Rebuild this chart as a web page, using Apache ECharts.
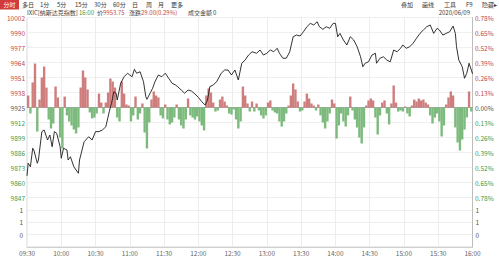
<!DOCTYPE html>
<html>
<head>
<meta charset="utf-8">
<script src="https://cdn.jsdelivr.net/npm/echarts/dist/echarts.min.js"></script>
<style>
html,body{margin:0;padding:0;background:#fff;}
#c{width:499px;height:257px;}
</style>
</head>
<body>
<div id="c"></div>
<script>
// ---------- data ----------
const prevClose = 9924.75;
const timeLabels = ['09:30','10:00','10:30','11:00','11:30','12:00','12:30','13:00','13:30','14:00','14:30','15:00','15:30','16:00'];
const priceLabels = ['9847','9860','9873','9886','9899','9912','9925','9938','9951','9964','9977','9990','10002'];
const pctLabels = ['0.78%','0.65%','0.52%','0.39%','0.26%','0.13%','0.00%','0.13%','0.26%','0.39%','0.52%','0.65%','0.78%'];
const volLabels = ['', '0', '1', '1', ''];

// minutes after 09:30
const lineMinutes = [0,1,3,5,6,9,10,13,15,18,
20,22,24,26,29,30,32,35,36,38,
41,45,46,50,54,57,60,63,66,69,
72,74,76,78,79,82,85,88,90,92,
94,96,99,102,104,105,108,110,112,115,
118,121,124,127,130,132,135,138,141,144,
147,150,153,156,158,160,163,166,170,173,
176,179,182,185,188,191,194,197,201,204,
207,210,213,216,219,221,224,227,230,233,
236,239,242,245,248,251,254,256,259,262,
265,268,270,272,274,277,280,283,286,289,
292,294,296,299,302,305,306,309,312,315,
318,321,324,327,329,332,335,338,341,344,
347,350,353,356,359,361,364,367,370,373,
375,376,378,381,383,385,387,389,390];
const linePrices = [9866.0,9876.8,9873.8,9889.7,9888.2,9876.8,9879.6,9904.0,9905.4,9896.8,
9901.1,9891.0,9904.0,9902.6,9891.0,9881.1,9889.7,9888.2,9879.6,9882.4,
9873.8,9868.2,9879.6,9895.3,9899.6,9896.8,9904.0,9904.0,9905.4,9908.2,
9921.1,9928.4,9938.3,9937.0,9931.2,9945.6,9951.2,9954.2,9952.7,9951.2,
9957.6,9954.2,9955.5,9946.9,9934.0,9931.8,9937.5,9941.3,9946.9,9952.7,
9951.2,9954.2,9949.9,9945.6,9944.1,9942.6,9939.8,9937.0,9939.8,9938.9,
9936.4,9933.5,9929.7,9926.9,9931.2,9942.6,9944.1,9946.9,9954.2,9957.0,
9957.0,9952.7,9957.0,9948.4,9962.8,9965.6,9969.9,9972.7,9971.4,9974.2,
9969.9,9971.4,9974.2,9972.7,9975.7,9971.4,9967.1,9967.1,9972.7,9985.6,
9987.1,9986.2,9989.9,9994.2,9997.1,9995.7,9998.5,9994.2,9992.0,9994.2,
9992.9,9997.1,9997.1,9985.6,9988.5,9982.8,9978.5,9985.6,9982.8,9977.0,
9968.4,9959.8,9962.8,9964.1,9969.9,9971.4,9962.8,9967.1,9968.4,9965.6,
9964.0,9974.2,9972.7,9975.7,9978.5,9975.7,9977.0,9980.0,9984.3,9988.5,
9991.4,9994.2,9995.7,9988.5,9992.9,9991.4,9987.1,9988.5,9989.9,9994.8,
9988.5,9977.0,9965.6,9959.8,9949.9,9954.2,9962.8,9957.0,9953.75];

// red/green bars, percent, one per 2-minute slot
const barValues = [0.104,-0.052,0.217,0.381,-0.208,0.069,0.26,0.355,0.173,-0.104,
-0.182,-0.139,0.182,0.087,-0.26,-0.355,0.095,-0.069,-0.121,-0.156,
-0.191,-0.225,-0.173,0.173,0.321,0.26,0.156,-0.043,-0.095,-0.087,
-0.052,0.121,0.043,-0.052,0.043,0.13,0.251,0.225,0.173,-0.087,
-0.121,0.225,0.121,0.026,0.017,-0.121,-0.069,0.095,-0.104,-0.052,
0.035,-0.217,-0.355,-0.13,0.069,0.139,0.104,0.087,-0.069,-0.095,
0.026,-0.104,-0.147,-0.13,-0.087,0.026,-0.104,-0.156,-0.182,-0.104,
0.078,-0.069,-0.087,-0.104,-0.078,-0.121,-0.156,-0.199,0.104,0.165,
0.13,0.043,-0.035,-0.026,0.069,0.095,0.052,0.017,-0.052,-0.061,
-0.017,-0.104,-0.182,-0.121,0.182,0.104,0.035,-0.035,0.052,-0.035,
0.035,-0.026,-0.069,-0.095,-0.069,0.043,0.061,-0.026,-0.043,-0.052,
-0.121,-0.165,-0.121,-0.052,0.017,0.104,0.208,0.156,0.052,-0.035,
-0.026,0.052,0.121,0.078,0.035,0.017,-0.026,0.026,-0.069,-0.13,
-0.182,-0.121,-0.052,0.069,0.035,-0.269,-0.156,-0.052,-0.121,-0.165,
-0.069,0.095,-0.026,-0.104,-0.173,-0.26,-0.312,-0.173,0.017,0.061,
0.078,0.061,-0.087,-0.234,-0.069,0.043,0.061,-0.052,-0.147,0.035,
0.191,0.043,-0.035,-0.026,-0.035,0.009,-0.052,-0.078,0.017,0.069,
0.052,0.078,0.061,0.069,0.043,0.026,-0.069,-0.139,-0.087,-0.052,
-0.121,-0.251,-0.156,0.026,0.087,0.139,0.104,-0.173,-0.303,-0.373,
-0.277,-0.191,-0.087,0.139,-0.035];

const headerTabs = ['多日','1分','5分','15分','30分','60分','日','周','月','更多'];
const headerTools = ['叠加','画线','工具','F9','隐藏▸'];

// ---------- chart ----------
const RED = '#c24848', GREEN = '#3f9a3f', GRAY = '#555';
const BAR_RED = '#cf7e7e', BAR_GREEN = '#7dba7d';
const FONT = '"Noto Sans CJK SC", "Noto Sans", sans-serif';
const HS = 6;

const chart = echarts.init(document.getElementById('c'), null, {renderer: 'svg'});

const lineData = lineMinutes.map((m, i) => [m, linePrices[i]]);
const barData = barValues.map((v, i) => [i * 2 + 1, v]);

function txt(x, y, text, fill, size, align) {
  return {type: 'text', x: x, y: y, silent: true,
    style: {text: text, fill: fill, font: size + 'px ' + FONT, lineHeight: size,
      align: align || 'left', verticalAlign: 'middle',
      textAlign: align || 'left', textVerticalAlign: 'middle'}};
}
const tabX = [22, 40, 57, 75, 94, 113, 132, 146, 158, 171];
const toolX = [401, 422, 444, 466, 482];
const graphics = [
  {type: 'rect', shape: {x: 0, y: 0, width: 19, height: 9.5}, style: {fill: '#d23b3b'}, silent: true},
  txt(3.5, 4.6, '分时', '#fff', HS)
];
headerTabs.forEach((t, i) => graphics.push(txt(tabX[i], 4.6, t, '#333', HS)));
headerTools.forEach((t, i) => graphics.push(txt(toolX[i], 4.6, t, '#333', HS)));
const R2 = 12.8;
graphics.push(txt(27, R2, 'IXIC[纳斯达克指数]', '#444', HS));
graphics.push(txt(79, R2, '16:00', GREEN, HS));
graphics.push(txt(97, R2, '价', '#444', HS));
graphics.push(txt(103, R2, '9953.75', RED, HS));
graphics.push(txt(129, R2, '涨跌', '#444', HS));
graphics.push(txt(141, R2, '29.00(0.29%)', RED, HS));
graphics.push(txt(188, R2, '成交金额', '#444', HS));
graphics.push(txt(213, R2, '0', '#444', HS));
graphics.push(txt(470, R2, '2020/06/09', '#444', HS, 'right'));

const pctColor = (v, i) => (i > 6 ? RED : (i < 6 ? GREEN : GRAY));

const option = {
  animation: false,
  backgroundColor: '#fff',
  textStyle: {fontFamily: FONT},
  graphic: graphics,
  grid: [
    {left: 27, top: 17.5, width: 445.5, height: 180, show: true, borderColor: '#d8d8d8', borderWidth: 1},
    {left: 27, top: 197.5, width: 445.5, height: 49.5, show: true, borderColor: '#d8d8d8', borderWidth: 1}
  ],
  xAxis: [
    {type: 'value', gridIndex: 0, min: 0, max: 390, interval: 30,
      axisLabel: {show: false}, axisTick: {show: false},
      axisLine: {show: true, lineStyle: {color: '#a8a8a8', width: 1}},
      splitLine: {show: true, lineStyle: {color: '#ececec', width: 1}}},
    {type: 'value', gridIndex: 1, min: 0, max: 390, interval: 30,
      axisTick: {show: false},
      axisLine: {show: true, lineStyle: {color: '#cfcfcf', width: 1}},
      splitLine: {show: true, lineStyle: {color: '#ececec', width: 1}},
      axisLabel: {show: true, color: '#666', fontSize: 6.5, margin: 3, fontFamily: FONT,
        showMinLabel: true, showMaxLabel: true,
        formatter: (v, i) => timeLabels[i]}}
  ],
  yAxis: [
    {type: 'value', gridIndex: 0, position: 'left', min: -0.78, max: 0.78, interval: 0.13,
      axisLine: {show: false}, axisTick: {show: false},
      splitLine: {show: true, lineStyle: {color: '#f0f0f0', width: 1}},
      axisLabel: {show: true, fontSize: 6.5, margin: 2, fontFamily: FONT,
        showMinLabel: true, showMaxLabel: true,
        color: pctColor, formatter: (v, i) => priceLabels[i]}},
    {type: 'value', gridIndex: 0, position: 'right', min: -0.78, max: 0.78, interval: 0.13,
      axisLine: {show: true, lineStyle: {color: '#bdbdbd', width: 1}}, axisTick: {show: false},
      splitLine: {show: false},
      axisLabel: {show: true, fontSize: 6.5, margin: 2.5, fontFamily: FONT,
        showMinLabel: true, showMaxLabel: true,
        color: pctColor, formatter: (v, i) => pctLabels[i]}},
    {type: 'value', gridIndex: 0, show: false, min: prevClose * (1 - 0.0078), max: prevClose * (1 + 0.0078),
      splitLine: {show: false}},
    {type: 'value', gridIndex: 1, position: 'left', min: 0, max: 4, interval: 1,
      axisLine: {show: false}, axisTick: {show: false},
      splitLine: {show: true, lineStyle: {color: '#eeeeee', width: 1}},
      axisLabel: {show: true, fontSize: 6.5, margin: 4, color: GRAY, fontFamily: FONT,
        showMinLabel: true, showMaxLabel: true,
        formatter: (v, i) => volLabels[i]}},
    {type: 'value', gridIndex: 1, position: 'right', min: 0, max: 4, interval: 1,
      axisLine: {show: true, lineStyle: {color: '#bdbdbd', width: 1}}, axisTick: {show: false},
      splitLine: {show: false},
      axisLabel: {show: true, fontSize: 6.5, margin: 3, color: GRAY, fontFamily: FONT,
        showMinLabel: true, showMaxLabel: true,
        formatter: (v, i) => volLabels[i]}}
  ],
  series: [
    {type: 'bar', name: 'flow', xAxisIndex: 0, yAxisIndex: 1, data: barData,
      barWidth: 2.4, barGap: '0%', z: 2,
      itemStyle: {color: p => (p.value[1] >= 0 ? BAR_RED : BAR_GREEN)}},
    {type: 'line', name: 'price', xAxisIndex: 0, yAxisIndex: 2, data: lineData,
      showSymbol: false, symbol: 'none', z: 5,
      lineStyle: {color: '#1c1c1c', width: 0.9}},
    {type: 'bar', name: 'volume', xAxisIndex: 1, yAxisIndex: 3, data: [], barWidth: 1}
  ]
};
chart.setOption(option);
</script>
</body>
</html>
